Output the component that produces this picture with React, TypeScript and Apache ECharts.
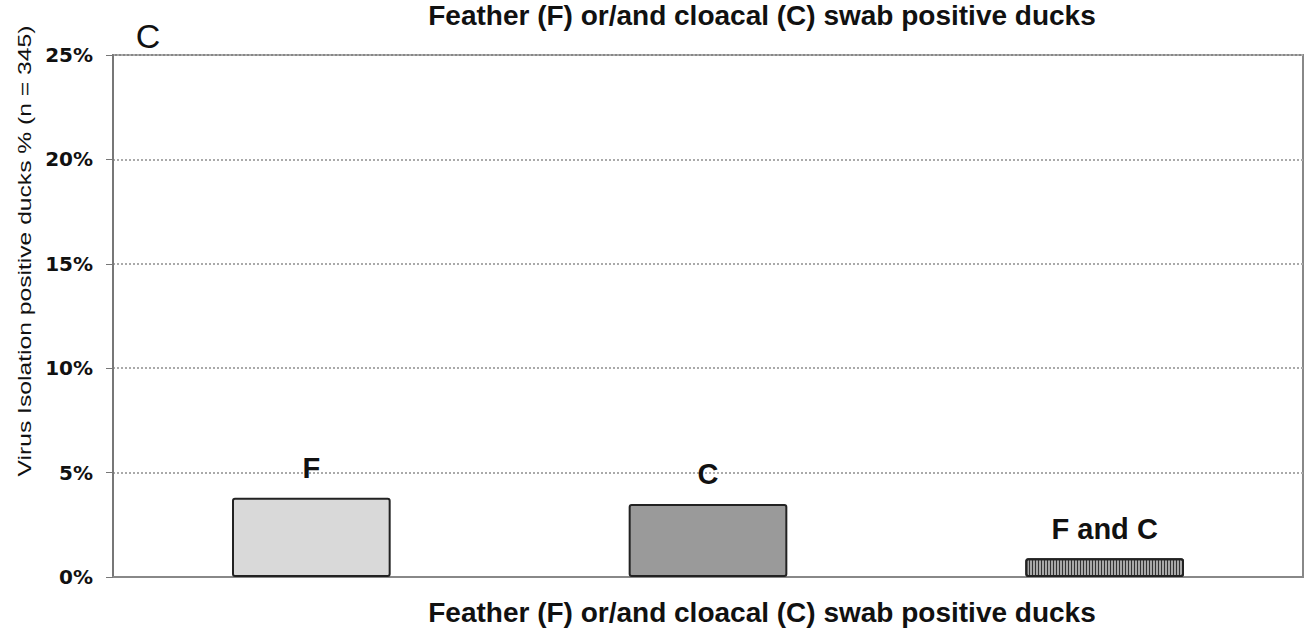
import React, { useEffect, useRef } from "react";
import * as echarts from "echarts";

const categories = ["F", "C", "F and C"];
const values = [3.8, 3.5, 0.9];
const yTicks = [0, 5, 10, 15, 20, 25];
const titleText = "Feather (F) or/and cloacal (C) swab positive ducks";
const yName = "Virus Isolation positive ducks % (n = 345)";
const panelLabel = "C";

export default function App() {
  const ref = useRef<HTMLDivElement>(null);
  useEffect(() => {
    document.body.style.margin = "0";
    const chart = echarts.init(ref.current!, null, { renderer: "svg" });
    const barStyles = [
      { color: "#d9d9d9" },
      { color: "#9a9a9a" },
      {
        color: "#a8a8a8",
        decal: {
          symbol: "rect",
          symbolSize: 1,
          color: "#333333",
          dashArrayX: [1, 2],
          dashArrayY: [10, 0],
          rotation: 0,
        },
      },
    ];
    chart.setOption({
      animation: false,
      backgroundColor: "#ffffff",
      grid: {
        left: 113,
        right: 8,
        top: 55,
        bottom: 59,
        show: true,
        borderColor: "#888",
        borderWidth: 2,
        backgroundColor: "transparent",
      },
      xAxis: {
        type: "category",
        data: categories,
        axisLabel: { show: false },
        axisTick: { show: false },
        axisLine: { lineStyle: { color: "#888", width: 2 } },
      },
      yAxis: {
        type: "value",
        min: yTicks[0],
        max: yTicks[yTicks.length - 1],
        interval: 5,
        axisLine: { show: true, lineStyle: { color: "#777", width: 2 } },
        axisTick: { show: true, length: 7, lineStyle: { color: "#777" } },
        axisLabel: {
          formatter: "{value}%",
          fontFamily: "DejaVu Sans",
          fontWeight: "bold",
          fontSize: 20,
          color: "#111",
          margin: 20,
        },
        splitLine: { lineStyle: { color: "#aaa", type: "dotted", width: 2 } },
      },
      series: [
        {
          type: "bar",
          barWidth: "40%",
          data: values.map((v, i) => ({
            value: v,
            itemStyle: {
              ...barStyles[i],
              borderColor: "#222",
              borderWidth: 2,
              borderRadius: 2,
            },
          })),
          label: {
            show: true,
            position: "top",
            distance: 15,
            formatter: (p: any) => categories[p.dataIndex],
            fontFamily: "Liberation Sans",
            fontWeight: "bold",
            fontSize: 29,
            color: "#111",
          },
        },
      ],
      graphic: [
        {
          type: "text",
          x: 762,
          y: 15,
          style: {
            text: titleText,
            fontFamily: "Liberation Sans",
            fontWeight: "bold",
            fontSize: 28,
            fill: "#111",
            textAlign: "center",
            textVerticalAlign: "middle",
          },
        },
        {
          type: "text",
          x: 762,
          y: 612,
          style: {
            text: titleText,
            fontFamily: "Liberation Sans",
            fontWeight: "bold",
            fontSize: 28,
            fill: "#111",
            textAlign: "center",
            textVerticalAlign: "middle",
          },
        },
        {
          type: "text",
          x: 148,
          y: 36,
          style: {
            text: panelLabel,
            fontFamily: "Liberation Sans",
            fontSize: 34,
            fill: "#111",
            textAlign: "center",
            textVerticalAlign: "middle",
          },
        },
        {
          type: "text",
          x: 25,
          y: 251,
          rotation: Math.PI / 2,
          scaleX: 1.37,
          scaleY: 1.05,
          style: {
            text: yName,
            fontFamily: "Liberation Sans",
            fontSize: 18,
            fill: "#111",
            textAlign: "center",
            textVerticalAlign: "middle",
          },
        },
      ],
    });
    return () => chart.dispose();
  }, []);
  return (
    <div
      ref={ref}
      style={{ position: "fixed", left: 0, top: 0, width: 1311, height: 636 }}
    />
  );
}
